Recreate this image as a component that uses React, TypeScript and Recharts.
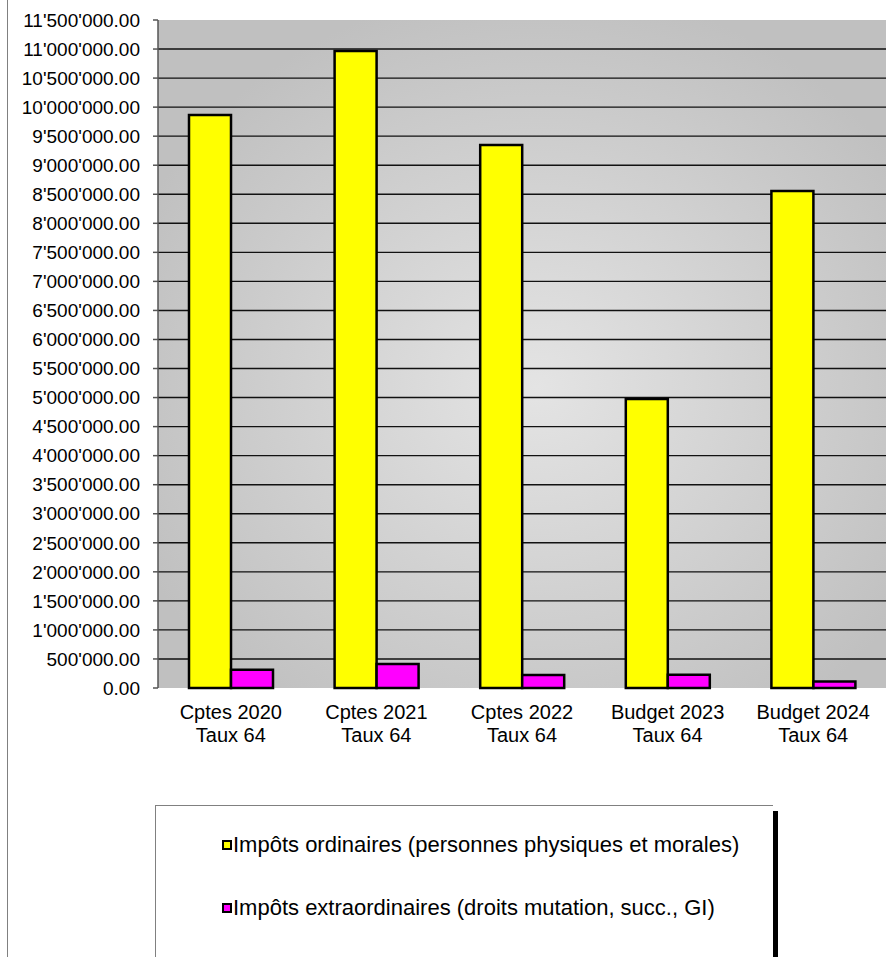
import { Bar, BarChart, CartesianGrid, Legend, XAxis, YAxis } from 'recharts';

const CATEGORIES = ['Cptes 2020', 'Cptes 2021', 'Cptes 2022', 'Budget 2023', 'Budget 2024'];
const SUBLABELS = ['Taux 64', 'Taux 64', 'Taux 64', 'Taux 64', 'Taux 64'];

const ORDINAIRES = [9865000, 10965000, 9350000, 4975000, 8555000];
const EXTRA = [315000, 415000, 225000, 230000, 110000];

const SERIES_NAMES = [
  'Impôts ordinaires (personnes physiques et morales)',
  'Impôts extraordinaires (droits mutation, succ., GI)',
];

const Y_MAX = 11500000;
const Y_TICKS = [
  0, 500000, 1000000, 1500000, 2000000, 2500000, 3000000, 3500000, 4000000, 4500000, 5000000,
  5500000, 6000000, 6500000, 7000000, 7500000, 8000000, 8500000, 9000000, 9500000, 10000000,
  10500000, 11000000, 11500000,
];

const FONT = '"Liberation Sans", Arial, sans-serif';

function fmt(v: number) {
  const s = Math.round(v).toString().replace(/\B(?=(\d{3})+(?!\d))/g, "'");
  return `${s}.00`;
}

const data = CATEGORIES.map((c, i) => ({
  name: c,
  sub: SUBLABELS[i],
  ord: ORDINAIRES[i],
  extra: EXTRA[i],
}));

function CatTick(props: any) {
  const { x, y, payload, index } = props;
  return (
    <text x={x} y={y} textAnchor="middle" fill="#000" fontSize={20} fontFamily={FONT}>
      <tspan x={x} dy={31}>{payload.value}</tspan>
      <tspan x={x} dy={23}>{SUBLABELS[index]}</tspan>
    </text>
  );
}

function LegendBox(props: any) {
  const items = [...(props.payload ?? [])].sort(
    (a: any, b: any) => SERIES_NAMES.indexOf(a.value) - SERIES_NAMES.indexOf(b.value),
  );
  return (
    <div
      style={{
        position: 'relative',
        width: 618,
        height: 152,
        background: '#fff',
        borderTop: '1px solid #808080',
        borderLeft: '1px solid #808080',
        boxShadow: '5px 6px 0 0 #000',
        boxSizing: 'border-box',
        fontFamily: FONT,
        fontSize: 22,
        color: '#000',
      }}
    >
      {items.map((it: any, i: number) => (
        <div
          key={it.value}
          style={{
            position: 'absolute',
            left: 66,
            top: 26 + i * 63,
            display: 'flex',
            alignItems: 'center',
            whiteSpace: 'nowrap',
          }}
        >
          <span
            style={{
              display: 'inline-block',
              width: 6,
              height: 6,
              background: it.color,
              border: '2px solid #000',
              marginRight: 1,
            }}
          />
          {it.value}
        </div>
      ))}
    </div>
  );
}

// inner gridlines only (no line on the top edge nor on the baseline)
function gridRows(p: any) {
  const top = p?.offset?.top ?? 20;
  const h = p?.offset?.height ?? 668;
  return Y_TICKS.slice(1, -1).map((t) => top + h * (1 - t / Y_MAX));
}

export default function App() {
  return (
    <div style={{ position: 'relative', width: 886, height: 957, background: '#fff', overflow: 'hidden' }}>
      <style>{`body{margin:0}`}</style>
      <div style={{ position: 'absolute', left: 7, top: 0, width: 1, height: 957, background: '#808080' }} />
      <BarChart
        width={886}
        height={957}
        data={data}
        margin={{ top: 20, right: 0, left: 0, bottom: 0 }}
        barSize={42}
        barGap={0}
        style={{ position: 'absolute', left: 0, top: 0 }}
      >
        <defs>
          <radialGradient id="plotBg" cx="0.52" cy="0.55" r="0.6">
            <stop offset="0%" stopColor="#e4e4e4" />
            <stop offset="100%" stopColor="#c0c0c0" />
          </radialGradient>
        </defs>
        <CartesianGrid
          vertical={false}
          stroke="#111"
          strokeWidth={1.4}
          fill="url(#plotBg)"
          fillOpacity={1}
          horizontalCoordinatesGenerator={gridRows}
        />
        <XAxis
          dataKey="name"
          height={117}
          axisLine={false}
          tickLine={false}
          tickSize={0}
          tickMargin={0}
          interval={0}
          tick={<CatTick />}
        />
        <YAxis
          width={158}
          domain={[0, Y_MAX]}
          ticks={Y_TICKS}
          interval={0}
          tickFormatter={fmt}
          tick={{ fill: '#000', fontSize: 19, fontFamily: FONT }}
          tickSize={5}
          tickMargin={13}
          axisLine={{ stroke: '#555', strokeWidth: 1.5 }}
          tickLine={{ stroke: '#555', strokeWidth: 1.5 }}
        />
        <Legend
          verticalAlign="bottom"
          height={152}
          width={618}
          wrapperStyle={{ left: 155, bottom: 0 }}
          content={<LegendBox />}
        />
        <Bar dataKey="ord" name={SERIES_NAMES[0]} fill="#ffff00" stroke="#000" strokeWidth={2.5} isAnimationActive={false} />
        <Bar dataKey="extra" name={SERIES_NAMES[1]} fill="#ff00ff" stroke="#000" strokeWidth={2.5} isAnimationActive={false} />
      </BarChart>
    </div>
  );
}
